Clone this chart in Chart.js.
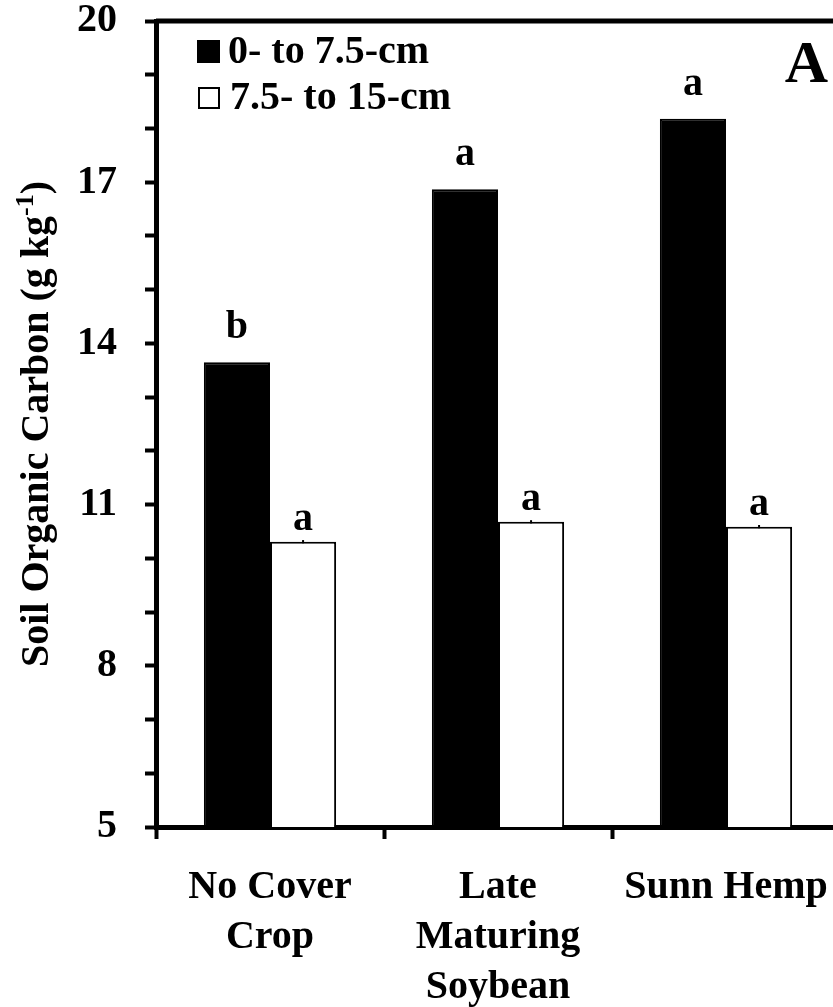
<!DOCTYPE html>
<html><head><meta charset="utf-8">
<style>html,body{margin:0;padding:0;overflow:hidden;background:#fff;width:833px;height:1007px}
canvas{display:block}</style>
<script src="https://cdn.jsdelivr.net/npm/chart.js@4/dist/chart.umd.min.js"></script>
</head><body>
<canvas id="c" width="846" height="1007"></canvas>
<script>
const categories = [["No Cover","Crop"],["Late","Maturing","Soybean"],["Sunn Hemp"]];
const seriesNames = ["0- to 7.5-cm","7.5- to 15-cm"];
const shallowSOC = [13.65, 16.87, 18.18];
const deepSOC = [10.31, 10.68, 10.59];
const deepErr = [0.03, 0.03, 0.03];
const shallowLetters = ["b","a","a"];
const deepLetters = ["a","a","a"];
const yMajorTicks = [5, 8, 11, 14, 17, 20];
const yMin = 5, yMax = 20;
const panelLabel = "A";
const yTitleMain = "Soil Organic Carbon (g kg";
const yTitleSup = "-1";
const yTitleEnd = ")";

const FAM = "'Liberation Serif','Times New Roman',serif";

const overlay = {
  id: 'overlay',
  afterDraw(chart) {
    const ctx = chart.ctx, a = chart.chartArea;
    ctx.save();
    // top frame line
    ctx.strokeStyle = '#000'; ctx.lineWidth = 5;
    ctx.beginPath(); ctx.moveTo(a.left, a.top); ctx.lineTo(chart.width, a.top); ctx.stroke();

    // legend
    ctx.font = 'bold 40px ' + FAM;
    ctx.textBaseline = 'middle'; ctx.textAlign = 'left';
    ctx.fillStyle = '#000';
    ctx.fillRect(a.left + 41, a.top + 19, 23, 23);
    ctx.fillText(seriesNames[0], a.left + 72, a.top + 32);
    ctx.lineWidth = 2;
    ctx.fillStyle = '#fff';
    ctx.fillRect(a.left + 43, a.top + 67, 20, 20);
    ctx.strokeRect(a.left + 43, a.top + 67, 20, 20);
    ctx.fillStyle = '#000';
    ctx.fillText(seriesNames[1], a.left + 74, a.top + 78);

    // panel letter
    ctx.font = 'bold 60px ' + FAM;
    ctx.textAlign = 'right'; ctx.textBaseline = 'alphabetic';
    ctx.fillText(panelLabel, 828, a.top + 61);

    // error whiskers for deep layer
    const ys = chart.scales.y;
    const m1 = chart.getDatasetMeta(1);
    ctx.lineWidth = 2;
    m1.data.forEach((el, i) => {
      const yT = ys.getPixelForValue(deepSOC[i] + deepErr[i]);
      const yB = ys.getPixelForValue(deepSOC[i] - deepErr[i]);
      ctx.beginPath(); ctx.moveTo(el.x, yB); ctx.lineTo(el.x, yT); ctx.stroke();
    });

    // significance letters
    ctx.font = 'bold 40px ' + FAM;
    ctx.textAlign = 'center'; ctx.textBaseline = 'alphabetic';
    chart.getDatasetMeta(0).data.forEach((el, i) => ctx.fillText(shallowLetters[i], el.x, el.y - 24));
    m1.data.forEach((el, i) => ctx.fillText(deepLetters[i], el.x, el.y - 12));

    // y title
    const cy = (a.top + a.bottom) / 2;
    ctx.translate(38, cy);
    ctx.rotate(-Math.PI / 2);
    ctx.textAlign = 'left'; ctx.textBaseline = 'middle';
    ctx.font = 'bold 40px ' + FAM;
    const w1 = ctx.measureText(yTitleMain).width;
    const w3 = ctx.measureText(yTitleEnd).width;
    ctx.font = 'bold 26px ' + FAM;
    const w2 = ctx.measureText(yTitleSup).width;
    let x = -(w1 + w2 + w3) / 2;
    ctx.font = 'bold 40px ' + FAM;
    ctx.fillText(yTitleMain, x, 0); x += w1;
    ctx.font = 'bold 26px ' + FAM;
    ctx.fillText(yTitleSup, x, -12); x += w2;
    ctx.font = 'bold 40px ' + FAM;
    ctx.fillText(yTitleEnd, x, 0);
    ctx.restore();
  }
};

new Chart(document.getElementById('c'), {
  type: 'bar',
  data: {
    labels: categories,
    datasets: [
      { label: seriesNames[0], data: shallowSOC, backgroundColor: '#000', borderColor: '#000', borderWidth: 2 },
      { label: seriesNames[1], data: deepSOC, backgroundColor: '#fff', borderColor: '#000', borderWidth: 2 }
    ]
  },
  options: {
    responsive: false,
    animation: false,
    devicePixelRatio: 1,
    layout: { padding: { top: 21, right: 6, left: 0, bottom: 0 } },
    plugins: { legend: { display: false }, tooltip: { enabled: false } },
    datasets: { bar: { categoryPercentage: 0.58, barPercentage: 1.0 } },
    scales: {
      x: {
        offset: true,
        grid: { display: true, offset: true, drawOnChartArea: false, drawTicks: true, tickLength: 12, tickWidth: 4, tickColor: '#000' },
        border: { display: true, color: '#000', width: 5 },
        ticks: { color: '#000', font: { family: FAM, size: 40, weight: 'bold', lineHeight: 1.25 }, padding: 24, maxRotation: 0, autoSkip: false },
        afterFit(s) { s.height = 180; s.paddingLeft = 0; s.paddingRight = 0; }
      },
      y: {
        min: yMin, max: yMax,
        grid: { display: true, drawOnChartArea: false, drawTicks: true, tickLength: 11, tickWidth: 4, tickColor: '#000' },
        border: { display: true, color: '#000', width: 5 },
        ticks: {
          stepSize: 1, autoSkip: false, color: '#000', padding: 28,
          font: { family: FAM, size: 40, weight: 'bold' },
          callback: v => yMajorTicks.includes(v) ? String(v) : ''
        },
        afterFit(s) { s.width = 156; s.paddingTop = 0; s.paddingBottom = 0; }
      }
    }
  },
  plugins: [overlay]
});
</script>
</body></html>
